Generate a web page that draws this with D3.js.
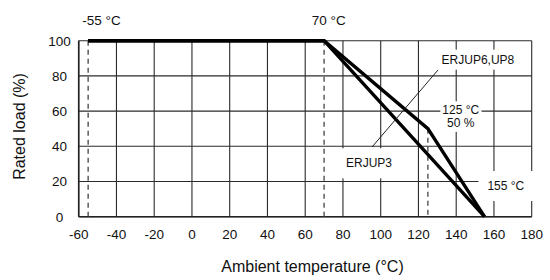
<!DOCTYPE html>
<html>
<head>
<meta charset="utf-8">
<script src="https://cdn.jsdelivr.net/npm/d3@7"></script>
<style>
  html, body { margin: 0; padding: 0; background: #fff; }
  svg { display: block; }
  text { font-family: "Liberation Sans", Arial, sans-serif; fill: #111; }
</style>
</head>
<body>
<svg id="chart" width="550" height="280"></svg>
<script>
// ---- data ----
const xTicks = [-60, -40, -20, 0, 20, 40, 60, 80, 100, 120, 140, 160, 180];
const yTicks = [0, 20, 40, 60, 80, 100];
const upTemp = [-55, 70, 125, 155];      // ERJUP6, UP8
const upLoad = [100, 100, 50, 0];
const up3Temp = [-55, 70, 155];          // ERJUP3
const up3Load = [100, 100, 0];
const markTemp = [-55, 70, 125];         // dashed reference lines
const markLoad = [100, 100, 50];
const topLabels = ["-55 °C", "70 °C"];
const xTitle = "Ambient temperature (°C)";
const yTitle = "Rated load (%)";

// ---- scales ----
const svg = d3.select("#chart");
const x = d3.scaleLinear().domain([-60, 180]).range([78.7, 531.7]);
const y = d3.scaleLinear().domain([0, 100]).range([216.7, 40.7]);
const gridColor = "#2b2b2b";

// ---- grid ----
const grid = svg.append("g");
grid.selectAll("line.v").data(xTicks).join("line")
  .attr("x1", d => x(d)).attr("x2", d => x(d))
  .attr("y1", y(0)).attr("y2", y(100))
  .attr("stroke", gridColor).attr("stroke-width", 1.1);
grid.selectAll("line.h").data(yTicks).join("line")
  .attr("x1", x(-60)).attr("x2", x(180))
  .attr("y1", d => y(d)).attr("y2", d => y(d))
  .attr("stroke", gridColor).attr("stroke-width", 1.1);
// left & bottom axis slightly heavier
svg.append("line").attr("x1", x(-60)).attr("x2", x(-60)).attr("y1", y(0)).attr("y2", y(100))
  .attr("stroke", "#222").attr("stroke-width", 1.6);
svg.append("line").attr("x1", x(-60)).attr("x2", x(180)).attr("y1", y(0)).attr("y2", y(0))
  .attr("stroke", "#222").attr("stroke-width", 1.6);

// ---- tick labels ----
svg.append("g").selectAll("text").data(xTicks).join("text")
  .attr("x", d => x(d)).attr("y", 239)
  .attr("text-anchor", "middle").attr("font-size", "13.5px")
  .text(d => d);
svg.append("g").selectAll("text").data(yTicks).join("text")
  .attr("x", 59.5).attr("y", d => y(d) + 4.8)
  .attr("text-anchor", "middle").attr("font-size", "13.5px")
  .text(d => d);

// ---- annotations (text with white boxes that hide the grid) ----
const ann = svg.append("g");
function label(lines, t, load, pad, size) {
  const g = ann.append("g");
  const rect = g.append("rect").attr("fill", "#fff");
  const txt = g.append("text").attr("text-anchor", "middle").attr("font-size", size + "px");
  lines.forEach((s, i) => {
    txt.append("tspan").attr("x", x(t)).attr("y", y(load) + 4.3 + i * 12.5).text(s);
  });
  const b = txt.node().getBBox();
  rect.attr("x", b.x - pad[0]).attr("y", b.y - pad[1])
      .attr("width", b.width + 2 * pad[0]).attr("height", b.height + 2 * pad[1]);
}
label(["ERJUP6,UP8"], 151.5, 89.4, [3, 3], 12);
label(["125 °C", "50 %"], 142.4, 60.6, [2, 2], 12);
label(["ERJUP3"], 93.8, 30.5, [11, 8], 12);
label(["155 °C"], 166.3, 17.6, [9, 8], 12);

// ---- dashed reference lines ----
svg.append("g").selectAll("line").data(markTemp).join("line")
  .attr("x1", d => x(d)).attr("x2", d => x(d))
  .attr("y1", (d, i) => y(markLoad[i])).attr("y2", y(0))
  .attr("stroke", "#444").attr("stroke-width", 1.3)
  .attr("stroke-dasharray", "5,4");

// ---- derating curves ----
const line = d3.line().x(d => x(d[0])).y(d => y(d[1]));
svg.append("path").datum(up3Temp.map((t, i) => [t, up3Load[i]]))
  .attr("d", line).attr("fill", "none").attr("stroke", "#000")
  .attr("stroke-width", 3.4).attr("stroke-linejoin", "miter");
svg.append("path").datum(upTemp.map((t, i) => [t, upLoad[i]]))
  .attr("d", line).attr("fill", "none").attr("stroke", "#000")
  .attr("stroke-width", 3.4).attr("stroke-linejoin", "miter");

// ---- leader line ----
svg.append("line")
  .attr("x1", x(130.4)).attr("y1", y(83.4))
  .attr("x2", x(95.4)).attr("y2", y(39.6))
  .attr("stroke", "#222").attr("stroke-width", 1);

// ---- top labels ----
svg.append("g").selectAll("text").data(topLabels).join("text")
  .attr("x", (d, i) => x([-47.9, 72.5][i])).attr("y", 25)
  .attr("text-anchor", "middle").attr("font-size", "13.5px")
  .text(d => d);

// ---- axis titles ----
svg.append("text").attr("x", 312.5).attr("y", 272)
  .attr("text-anchor", "middle").attr("font-size", "16px").text(xTitle);
svg.append("text").attr("transform", "translate(25,126.5) rotate(-90)")
  .attr("text-anchor", "middle").attr("font-size", "16px").text(yTitle);
</script>
</body>
</html>
